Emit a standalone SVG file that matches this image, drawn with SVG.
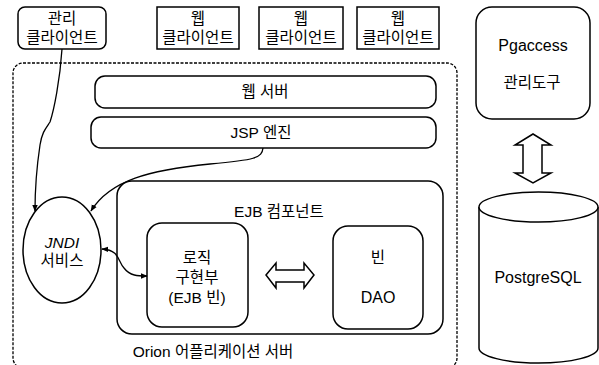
<svg xmlns="http://www.w3.org/2000/svg" width="599" height="365" viewBox="0 0 599 365">
<defs>
<marker id="ah" viewBox="0 0 10 10" refX="9" refY="5" markerWidth="7" markerHeight="7" orient="auto-start-reverse" markerUnits="userSpaceOnUse">
<path d="M0,1 L10,5 L0,9 z" fill="#000"/>
</marker>
<style>
.b{fill:#fff;stroke:#000;stroke-width:1.5}
.t{font-family:"Liberation Sans","Noto Sans CJK KR",sans-serif;font-size:15.5px;fill:#000;text-anchor:middle}
.l{font-size:16px}
.c{fill:none;stroke:#000;stroke-width:1.3}
</style>
</defs>
<rect width="599" height="365" fill="#fff"/>
<g id="orion">
<rect x="13" y="63" width="444" height="305" rx="10" fill="none" stroke="#000" stroke-width="1.3" stroke-dasharray="3,1.5"/>
<text class="t" x="213" y="357">Orion 어플리케이션 서버</text>
</g>
<g id="admin-client">
<rect class="b" x="18" y="7" width="88" height="42" rx="7"/>
<text class="t" x="62" y="24">관리</text>
<text class="t" x="62" y="43">클라이언트</text>
</g>
<g id="web-client-1">
<rect class="b" x="157" y="7" width="82" height="42"/>
<text class="t" x="198" y="24">웹</text>
<text class="t" x="198" y="43">클라이언트</text>
</g>
<g id="web-client-2">
<rect class="b" x="259" y="7" width="84" height="42"/>
<text class="t" x="301" y="24">웹</text>
<text class="t" x="301" y="43">클라이언트</text>
</g>
<g id="web-client-3">
<rect class="b" x="357" y="7" width="82" height="42"/>
<text class="t" x="398" y="24">웹</text>
<text class="t" x="398" y="43">클라이언트</text>
</g>
<g id="pgaccess">
<rect class="b" x="476" y="7" width="114" height="112" rx="16"/>
<text class="t l" x="533" y="51">Pgaccess</text>
<text class="t" x="532" y="88">관리도구</text>
</g>
<g id="web-server">
<rect class="b" x="95" y="76" width="341" height="32" rx="10"/>
<text class="t" x="265" y="97">웹 서버</text>
</g>
<g id="jsp-engine">
<rect class="b" x="91" y="117" width="345" height="31" rx="10"/>
<text class="t" x="261" y="138">JSP 엔진</text>
</g>
<g id="ejb-component">
<rect class="b" x="117" y="181" width="326" height="153" rx="15"/>
<text class="t" x="279" y="217">EJB 컴포넌트</text>
</g>
<g id="logic">
<rect class="b" x="147" y="223" width="101" height="104" rx="15"/>
<text class="t" x="197" y="263">로직</text>
<text class="t" x="197" y="283">구현부</text>
<text class="t" x="197" y="303">(EJB 빈)</text>
</g>
<g id="bean-dao">
<rect class="b" x="333" y="226" width="90" height="103" rx="15"/>
<text class="t" x="378" y="263">빈</text>
<text class="t l" x="378" y="303">DAO</text>
</g>
<g id="jndi">
<ellipse class="b" cx="62" cy="250" rx="39" ry="53"/>
<text class="t" x="62" y="248" font-style="italic">JNDI</text>
<text class="t" x="62" y="266">서비스</text>
</g>
<g id="postgresql">
<path class="b" d="M479,207 L479,348 A59.5,15 0 0 0 598,348 L598,207"/>
<ellipse class="b" cx="538.5" cy="207" rx="59.5" ry="15"/>
<text class="t l" x="538" y="283">PostgreSQL</text>
</g>
<g id="connectors">
<path class="c" d="M62,49 C60,80 54,110 50,122 C46,128 42,132 40,145 C37,165 35,185 35,211" marker-end="url(#ah)"/>
<path class="c" d="M263,148 C262,158 255,160 210,164 C150,170 110,180 91,211" marker-end="url(#ah)"/>
<path class="c" d="M102,249 C120,250 118,262 124,268 C130,276 138,276 147,276" marker-start="url(#ah)" marker-end="url(#ah)"/>
<path class="b" d="M533,134 L551,145 L542,145 L542,173 L551,173 L533,183 L515,173 L523,173 L523,145 L515,145 Z"/>
<path class="b" d="M266,275 L276,263 L276,270 L304,270 L304,263 L314,275 L304,288 L304,282 L276,282 L276,288 Z"/>
</g>
</svg>
